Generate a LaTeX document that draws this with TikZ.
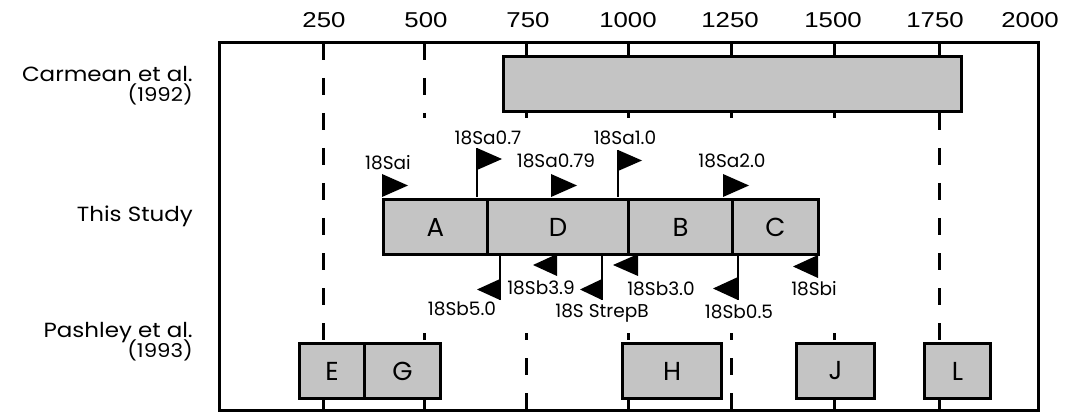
\documentclass[tikz,border=0pt]{standalone}
\usepackage{fontspec}
\setmainfont{Poppins}
\newfontfamily\numfont{Liberation Sans}
\tikzset{
  framebox/.style={line width=3pt},
  gridline/.style={line width=3pt, dash pattern=on 17pt off 18pt},
  seg/.style={draw, line width=3pt, fill=black!23, inner sep=0pt, anchor=north west,
              font=\fontsize{26}{26}\selectfont},
  pole/.style={line width=2.5pt},
  flaglbl/.style={font=\fontsize{18.5}{19}\selectfont, anchor=base, inner sep=0pt},
  numlbl/.style={font=\numfont\fontsize{21.5}{22}\selectfont, anchor=base, inner sep=0pt, xscale=1.2},
  rowlbl/.style={font=\fontsize{20.5}{21}\selectfont, anchor=base east, inner sep=0pt, xscale=1.12},
  yearlbl/.style={font=\fontsize{19}{19}\selectfont, anchor=base east, inner sep=0pt, xscale=1.12},
}
\begin{document}
\begin{tikzpicture}[x=1pt,y=-1pt]
\useasboundingbox (0,0) rectangle (1068,414);
% axis labels
\foreach \v/\x in {250/324,500/426,750/528,1000/628,1250/730,1500/833,1750/935,2000/1030}
  \node[numlbl] (t\v) at (\x,28) {\v};
% grid lines
\begin{scope}
\clip (0,43) rectangle (1068,118) (0,333) rectangle (1068,411);
\foreach \x in {424,526,628,731,834} \draw[gridline] (\x,43) -- (\x,410);
\end{scope}
\foreach \x in {323,939} \draw[gridline] (\x,43) -- (\x,410);
% frame
\draw[framebox] (219,43) rectangle (1038,410);
% row labels
\node[rowlbl] (carm1) at (193,82) {Carmean et al.};
\node[yearlbl] (carm2) at (193,102) {(1992)};
\node[rowlbl] (this) at (193,222) {This Study};
\node[rowlbl] (pash1) at (193,337) {Pashley et al.};
\node[yearlbl] (pash2) at (193,357) {(1993)};
% Carmean
\node[seg, minimum width=458pt, minimum height=55pt] (carm) at (502,55) {};
% This study
\node[seg, minimum width=104pt, minimum height=55pt] (A) at (382,198) {A};
\node[seg, minimum width=141pt, minimum height=55pt] (D) at (486,198) {D};
\node[seg, minimum width=104pt, minimum height=55pt] (B) at (627,198) {B};
\node[seg, minimum width=86pt, minimum height=55pt] (C) at (731,198) {C};
% Pashley
\node[seg, minimum width=65pt, minimum height=55pt] (E) at (298,342) {E};
\node[seg, minimum width=76pt, minimum height=55pt] (G) at (363,342) {G};
\node[seg, minimum width=99pt, minimum height=55pt] (H) at (621,342) {H};
\node[seg, minimum width=78pt, minimum height=55pt] (J) at (795,342) {J};
\node[seg, minimum width=66pt, minimum height=55pt] (L) at (923,342) {L};
% upper flags
\fill (382,174) -- (382,197) -- (408,185.5) -- cycle;
\draw[pole] (477,197) -- (477,148);
\fill (477,148) -- (477,170) -- (502,159) -- cycle;
\fill (551,174) -- (551,197) -- (577,185.5) -- cycle;
\draw[pole] (618,197) -- (618,150);
\fill (618,150) -- (618,171) -- (642,160.5) -- cycle;
\fill (723,174) -- (723,197) -- (749,185.5) -- cycle;
% lower flags
\draw[pole] (500,254) -- (500,300);
\fill (500,279) -- (500,300) -- (477,289.5) -- cycle;
\fill (557,254) -- (557,276) -- (533,265) -- cycle;
\draw[pole] (602,254) -- (602,300);
\fill (602,279) -- (602,300) -- (580,289.5) -- cycle;
\fill (638,254) -- (638,276) -- (613,265) -- cycle;
\draw[pole] (738,254) -- (738,300);
\fill (738,277) -- (738,300) -- (713,288.5) -- cycle;
\fill (818,255) -- (818,278) -- (793,266.5) -- cycle;
% flag labels
\node[flaglbl] (fai) at (388,170) {18Sai};
\node[flaglbl] (fa07) at (488,145) {18Sa0.7};
\node[flaglbl] (fa079) at (556,168) {18Sa0.79};
\node[flaglbl] (fa10) at (625,145) {18Sa1.0};
\node[flaglbl] (fa20) at (732,168) {18Sa2.0};
\node[flaglbl] (fb50) at (462,315) {18Sb5.0};
\node[flaglbl] (fb39) at (541,294) {18Sb3.9};
\node[flaglbl] (fstrep) at (602,317) {18S StrepB};
\node[flaglbl] (fb30) at (661,295) {18Sb3.0};
\node[flaglbl] (fb05) at (739,318) {18Sb0.5};
\node[flaglbl] (fbi) at (814,295) {18Sbi};
\end{tikzpicture}
\end{document}
